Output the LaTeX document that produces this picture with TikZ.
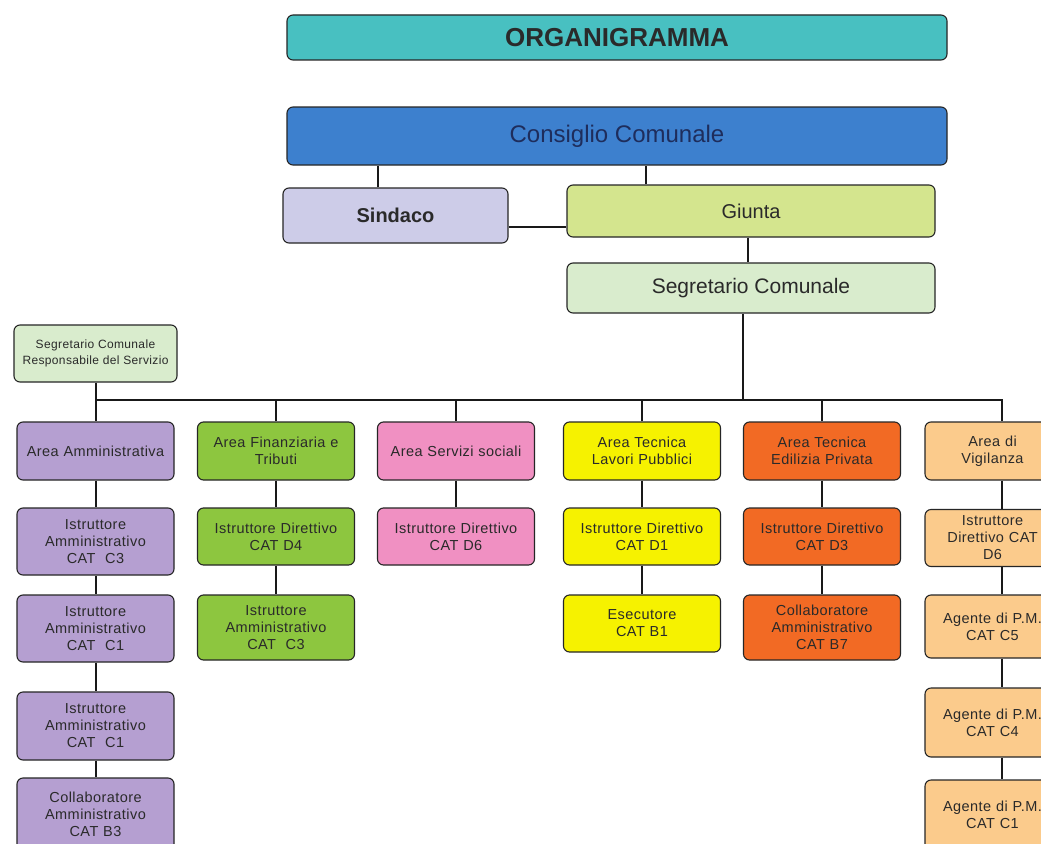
\documentclass[tikz,border=0pt]{standalone}
\usepackage{fontspec}
\setmainfont{Liberation Sans}
\newfontfamily\spacedsans[LetterSpace=3]{Liberation Sans}
\definecolor{cteal}{HTML}{48C0C1}
\definecolor{cblue}{HTML}{3D80CE}
\definecolor{clav}{HTML}{CDCCE8}
\definecolor{cgiunta}{HTML}{D4E58E}
\definecolor{cpale}{HTML}{D9ECCD}
\definecolor{cpurple}{HTML}{B59FD1}
\definecolor{cgreen}{HTML}{8DC63F}
\definecolor{cpink}{HTML}{F090C2}
\definecolor{cyellow}{HTML}{F6F200}
\definecolor{corange}{HTML}{F26A24}
\definecolor{cpeach}{HTML}{FBCB8C}
\definecolor{ctext}{HTML}{2A2A2A}
\definecolor{cnavy}{HTML}{1E2D5C}
\begin{document}
\begin{tikzpicture}[x=1pt,y=-1pt,
  box/.style={draw=black!85, line width=1.1pt, rounded corners=6pt, align=center, inner sep=2pt, text=ctext},
  cbox/.style={box, minimum width=157pt, text width=150pt, font=\spacedsans\fontsize{14.5}{17}\selectfont},
  vbox/.style={box, minimum width=135pt, text width=110pt, font=\spacedsans\fontsize{14.5}{17}\selectfont},
  link/.style={draw=black!90, line width=2pt}]
\clip (0,0) rectangle (1041,843);
\fill[white] (0,0) rectangle (1041,843);

% top
\node[box, fill=cteal, minimum width=660pt, minimum height=45pt, font=\bfseries\fontsize{26}{30}\selectfont] (title) at (617,37.5) {ORGANIGRAMMA};
\node[box, fill=cblue, minimum width=660pt, minimum height=58pt, font=\fontsize{24}{28}\selectfont, text=cnavy] (cons) at (617,136) {Consiglio Comunale};
\node[box, fill=clav, minimum width=225pt, minimum height=55pt, font=\bfseries\fontsize{20}{24}\selectfont] (sind) at (395.5,215.5) {Sindaco};
\node[box, fill=cgiunta, minimum width=368pt, minimum height=52pt, font=\fontsize{20}{24}\selectfont] (giunta) at (751,211) {Giunta};
\node[box, fill=cpale, minimum width=368pt, minimum height=50pt, font=\fontsize{21}{25}\selectfont] (segr) at (751,288) {Segretario Comunale};
\node[box, fill=cpale, minimum width=163pt, minimum height=57pt, font=\spacedsans\fontsize{12}{16}\selectfont] (resp) at (95.5,353.5) {Segretario Comunale\\Responsabile del Servizio};

% column 1
\node[cbox, fill=cpurple, minimum height=58pt] (a1) at (95.5,451) {Area Amministrativa};
\node[cbox, fill=cpurple, minimum height=67pt] (a1b) at (95.5,541.5) {Istruttore\\Amministrativo\\CAT~ C3};
\node[cbox, fill=cpurple, minimum height=67pt] (a1c) at (95.5,628.5) {Istruttore\\Amministrativo\\CAT~ C1};
\node[cbox, fill=cpurple, minimum height=68pt] (a1d) at (95.5,726) {Istruttore\\Amministrativo\\CAT~ C1};
\node[cbox, fill=cpurple, minimum height=72pt] (a1e) at (95.5,814) {Collaboratore\\Amministrativo\\CAT B3};

% column 2
\node[cbox, fill=cgreen, minimum height=58pt] (a2) at (276,451) {Area Finanziaria e\\Tributi};
\node[cbox, fill=cgreen, minimum height=57pt] (a2b) at (276,536.5) {Istruttore Direttivo\\CAT D4};
\node[cbox, fill=cgreen, minimum height=65pt] (a2c) at (276,627.5) {Istruttore\\Amministrativo\\CAT~ C3};

% column 3
\node[cbox, fill=cpink, minimum height=58pt] (a3) at (456,451) {Area Servizi sociali};
\node[cbox, fill=cpink, minimum height=57pt] (a3b) at (456,536.5) {Istruttore Direttivo\\CAT D6};

% column 4
\node[cbox, fill=cyellow, minimum height=58pt] (a4) at (642,451) {Area Tecnica\\Lavori Pubblici};
\node[cbox, fill=cyellow, minimum height=57pt] (a4b) at (642,536.5) {Istruttore Direttivo\\CAT D1};
\node[cbox, fill=cyellow, minimum height=57pt] (a4c) at (642,623.5) {Esecutore\\CAT B1};

% column 5
\node[cbox, fill=corange, minimum height=58pt] (a5) at (822,451) {Area Tecnica\\Edilizia Privata};
\node[cbox, fill=corange, minimum height=57pt] (a5b) at (822,536.5) {Istruttore Direttivo\\CAT D3};
\node[cbox, fill=corange, minimum height=65pt] (a5c) at (822,627.5) {Collaboratore\\Amministrativo\\CAT B7};

% column 6
\node[vbox, fill=cpeach, minimum height=58pt] (a6) at (992.5,451) {Area di\\Vigilanza};
\node[vbox, fill=cpeach, minimum height=57pt] (a6b) at (992.5,538) {Istruttore\\Direttivo CAT\\D6};
\node[vbox, fill=cpeach, minimum height=63pt] (a6c) at (992.5,626.5) {Agente di P.M.\\CAT C5};
\node[vbox, fill=cpeach, minimum height=69pt] (a6d) at (992.5,722.5) {Agente di P.M.\\CAT C4};
\node[vbox, fill=cpeach, minimum height=70pt] (a6e) at (992.5,815) {Agente di P.M.\\CAT C1};

% connectors
\coordinate (busL) at (95.5,400);
\coordinate (busR) at (1002,400);
\draw[link] ([xshift=-17.5pt]sind.north) -- ([xshift=-17.5pt]sind.north |- cons.south);
\draw[link] ([xshift=-105pt]giunta.north) -- ([xshift=-105pt]giunta.north |- cons.south);
\draw[link] ([yshift=-11.5pt]sind.east) -- ([yshift=-11.5pt]sind.east -| giunta.west);
\draw[link] ([xshift=-3pt]giunta.south) -- ([xshift=-3pt]segr.north);
\draw[link] ([xshift=-8pt]segr.south) -- ([xshift=-8pt]segr.south |- busL);
\draw[link] (resp.south) -- (a1.north);
\draw[link] (busL) -- (busR) -- ([xshift=9.5pt]a6.north);
\foreach \n in {a2,a3,a4,a5} {\draw[link] (\n.north) -- (\n.north |- busL);}
\draw[link] (a1.south) -- (a1b.north);
\draw[link] (a1b.south) -- (a1c.north);
\draw[link] (a1c.south) -- (a1d.north);
\draw[link] (a1d.south) -- (a1e.north);
\draw[link] (a2.south) -- (a2b.north);
\draw[link] (a2b.south) -- (a2c.north);
\draw[link] (a3.south) -- (a3b.north);
\draw[link] (a4.south) -- (a4b.north);
\draw[link] (a4b.south) -- (a4c.north);
\draw[link] (a5.south) -- (a5b.north);
\draw[link] (a5b.south) -- (a5c.north);
\draw[link] ([xshift=9.5pt]a6.south) -- ([xshift=9.5pt]a6b.north);
\draw[link] ([xshift=9.5pt]a6b.south) -- ([xshift=9.5pt]a6c.north);
\draw[link] ([xshift=9.5pt]a6c.south) -- ([xshift=9.5pt]a6d.north);
\draw[link] ([xshift=9.5pt]a6d.south) -- ([xshift=9.5pt]a6e.north);
\end{tikzpicture}
\end{document}
